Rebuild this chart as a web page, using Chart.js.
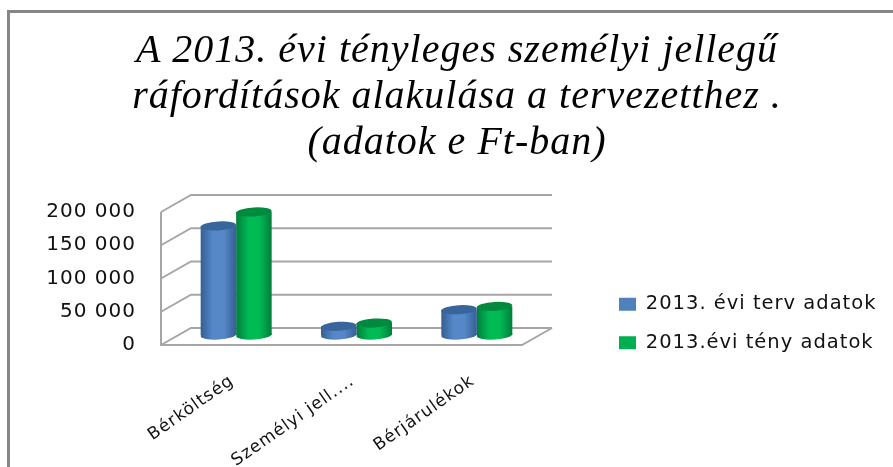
<!DOCTYPE html>
<html>
<head>
<meta charset="utf-8">
<style>
  html, body { margin: 0; padding: 0; background: #fff; overflow: hidden; }
  #wrap { position: relative; width: 893px; height: 467px; overflow: hidden; }
  #frame { position: absolute; left: 7px; top: 10px; width: 900px; height: 470px; border: 3px solid #868686; }
  canvas { position: absolute; left: 0; top: 0; }
</style>
<script src="https://cdn.jsdelivr.net/npm/chart.js@4/dist/chart.umd.min.js"></script>
</head>
<body>
<div id="wrap">
  <div id="frame"></div>
  <canvas id="chart" width="893" height="467"></canvas>
</div>
<script>
const titleLines = [
  'A 2013. évi tényleges személyi jellegű',
  'ráfordítások alakulása a tervezetthez .',
  '(adatok e Ft-ban)'
];
const categories = ['Bérköltség', 'Személyi jell....', 'Bérjárulékok'];
const planValues = [164000, 13000, 38000];
const actualValues = [185000, 18000, 43000];
const yTickLabels = ['0', '50 000', '100 000', '150 000', '200 000'];

const blue = { edge: '#345f94', mid: '#5688c8', top: '#38659c', flat: '#4f81bd' };
const green = { edge: '#007e3c', mid: '#00ba54', top: '#008a3e', flat: '#00b050' };

const catPercent = 0.59;

function cylinderFill(colors, side) {
  return (c) => {
    if (c.type !== 'data') return colors.flat;
    const xs = c.chart.scales.x;
    const w = (xs.right - xs.left) / categories.length * catPercent / 2;
    const cx = xs.getPixelForValue(c.dataIndex) + side * w / 2;
    if (!isFinite(cx) || !isFinite(w)) return colors.flat;
    const g = c.chart.ctx.createLinearGradient(cx - w / 2, 0, cx + w / 2, 0);
    g.addColorStop(0, colors.edge);
    g.addColorStop(0.35, colors.mid);
    g.addColorStop(0.65, colors.mid);
    g.addColorStop(1, colors.edge);
    return g;
  };
}

// fake 3d: walls and floor around the bar plane, caps on the bars
const back = { dx: 15, dy: -7 };
const front = { dx: -15, dy: 10 };
const wallPlugin = {
  id: 'wall3d',
  beforeUpdate(chart) {
    chart.ctx.letterSpacing = '1px';
  },
  beforeLayout(chart) {
    // the layout caps side boxes at a fraction of the width, legend needs more
    const lg = chart.legend;
    if (lg.patched) return;
    lg.patched = true;
    const fit = lg.fit.bind(lg);
    lg.fit = function () {
      this.maxWidth = 300;
      fit();
      this.width = 293;
    };
  },
  afterLayout(chart) {
    chart.legend.top += 90;
    chart.legend.bottom += 90;
  },
  beforeDatasetsDraw(chart) {
    const { ctx, chartArea: a, scales: { y } } = chart;
    ctx.save();
    ctx.strokeStyle = '#a6a6a6';
    ctx.lineWidth = 2;
    yTickLabels.forEach((t, i) => {
      const py = y.getPixelForValue(i * 50000);
      ctx.beginPath();
      ctx.moveTo(a.left + front.dx, py + front.dy);
      ctx.lineTo(a.left + back.dx, py + back.dy);
      ctx.lineTo(a.right + back.dx, py + back.dy);
      ctx.stroke();
    });
    const y0 = y.getPixelForValue(0);
    const yTop = y.getPixelForValue(200000);
    ctx.beginPath();
    ctx.moveTo(a.left + front.dx, yTop + front.dy);
    ctx.lineTo(a.left + front.dx, y0 + front.dy);
    ctx.lineTo(a.right + front.dx, y0 + front.dy);
    ctx.lineTo(a.right + back.dx, y0 + back.dy);
    ctx.stroke();
    ctx.restore();
    // bottom of the cylinders
    chart.data.datasets.forEach((ds, di) => {
      chart.getDatasetMeta(di).data.forEach((bar) => {
        ctx.save();
        ctx.fillStyle = bar.options.backgroundColor;
        ctx.beginPath();
        ctx.ellipse(bar.x, bar.base, bar.width / 2, 4.5, -0.06, 0, Math.PI * 2);
        ctx.fill();
        ctx.restore();
      });
    });
  },
  afterDatasetsDraw(chart) {
    const { ctx } = chart;
    [blue, green].forEach((colors, di) => {
      chart.getDatasetMeta(di).data.forEach((bar) => {
        ctx.save();
        ctx.fillStyle = colors.top;
        ctx.beginPath();
        ctx.ellipse(bar.x, bar.y, bar.width / 2, 4.5, -0.06, 0, Math.PI * 2);
        ctx.fill();
        ctx.restore();
      });
    });
  }
};

new Chart(document.getElementById('chart'), {
  type: 'bar',
  data: {
    labels: categories,
    datasets: [
      { label: '2013. évi terv adatok', data: planValues, backgroundColor: cylinderFill(blue, -1) },
      { label: '2013.évi tény adatok', data: actualValues, backgroundColor: cylinderFill(green, 1) }
    ]
  },
  options: {
    responsive: false,
    animation: false,
    categoryPercentage: catPercent,
    barPercentage: 1,
    layout: { padding: { left: 21, right: 0, top: 0, bottom: 0 } },
    plugins: {
      tooltip: { enabled: false },
      title: {
        display: true,
        text: titleLines,
        color: '#000',
        font: { family: '"Liberation Serif", serif', size: 40, style: 'italic', weight: 'normal', lineHeight: 1.15 },
        padding: { top: 28, bottom: 36 }
      },
      legend: {
        position: 'right',
        labels: {
          color: '#111',
          font: { family: '"DejaVu Sans", sans-serif', size: 19.5 },
          boxWidth: 17,
          boxHeight: 13,
          padding: 19,
          generateLabels(chart) {
            const items = Chart.defaults.plugins.legend.labels.generateLabels(chart);
            items.forEach((it, i) => { it.fillStyle = [blue, green][i].flat; it.lineWidth = 0; });
            return items;
          }
        }
      }
    },
    scales: {
      x: {
        grid: { display: false, drawTicks: false },
        border: { display: false },
        ticks: {
          color: '#111',
          font: { family: '"DejaVu Sans", sans-serif', size: 17 },
          minRotation: 35,
          maxRotation: 35,
          padding: 36,
          labelOffset: -4,
          autoSkip: false
        },
        afterFit(s) { s.height = 132; }
      },
      y: {
        min: 0,
        max: 200000,
        grid: { display: false, drawTicks: false },
        border: { display: false },
        ticks: {
          stepSize: 50000,
          color: '#111',
          font: { family: '"DejaVu Sans", sans-serif', size: 20 },
          padding: 40,
          labelOffset: 10,
          callback: (v, i) => yTickLabels[i]
        },
        afterFit(s) { s.width = 155; }
      },
      // empty axis, only keeps the gap between plot and legend
      gap: {
        type: 'linear',
        position: 'right',
        display: true,
        grid: { display: false, drawTicks: false },
        border: { display: false },
        ticks: { display: false },
        afterFit(s) { s.width = 63; }
      }
    }
  },
  plugins: [wallPlugin]
});
</script>
</body>
</html>
